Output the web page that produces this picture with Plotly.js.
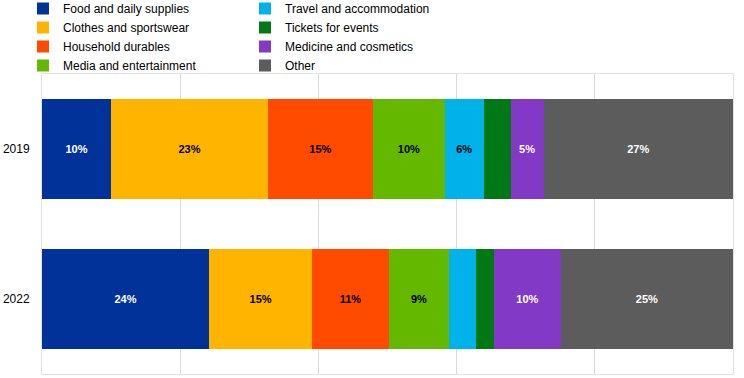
<!DOCTYPE html>
<html>
<head>
<meta charset="utf-8">
<script src="https://cdn.plot.ly/plotly-3.0.1.min.js"></script>
<style>html,body{margin:0;padding:0;background:#fff;}#chart{width:744px;height:378px;}</style>
</head>
<body>
<div id="chart"></div>
<script>
const years = ["2019", "2022"];
const categories = ["Food and daily supplies", "Clothes and sportswear", "Household durables", "Media and entertainment",
  "Travel and accommodation", "Tickets for events", "Medicine and cosmetics", "Other"];
const values2019 = [10.0, 22.7, 15.2, 10.4, 5.6, 3.9, 4.8, 27.4];
const values2022 = [24.2, 14.9, 11.1, 8.7, 3.9, 2.6, 9.7, 24.9];

const colors = ["#003299", "#FFB400", "#FF4B00", "#65B800", "#00B1EA", "#007816", "#8139C6", "#5C5C5C"];
const labelColors = ["#ffffff", "#000000", "#000000", "#000000", "#000000", "#ffffff", "#ffffff", "#ffffff"];

function label(v) { return v >= 4.5 ? Math.round(v) + "%" : ""; }

const M = {l: 42, r: 11, t: 74, b: 4, autoexpand: false};
const W = 744 - M.l - M.r, H = 378 - M.t - M.b;

const traces = categories.map((name, i) => {
  const vals = [values2019[i], values2022[i]];
  return {
    type: "bar",
    orientation: "h",
    name: name,
    y: years,
    x: vals,
    text: vals.map(label),
    textposition: "inside",
    insidetextanchor: "middle",
    textangle: 0,
    constraintext: "none",
    textfont: {family: "Liberation Sans, Arial, sans-serif", size: 11, color: labelColors[i], weight: "bold"},
    marker: {color: colors[i], line: {width: 0}},
    hoverinfo: "name+x",
    legend: i < 4 ? "legend" : "legend2"
  };
});

const legendCommon = {
  orientation: "v",
  xref: "paper", yref: "paper",
  xanchor: "left", yanchor: "top",
  y: 1 + (M.t + 6) / H,
  bgcolor: "rgba(0,0,0,0)",
  borderwidth: 0,
  font: {family: "Liberation Sans, Arial, sans-serif", size: 12, color: "#000"},
  traceorder: "normal",
  tracegroupgap: 0,
  itemclick: false, itemdoubleclick: false
};

const layout = {
  width: 744, height: 378,
  margin: M,
  paper_bgcolor: "#fff", plot_bgcolor: "#fff",
  font: {family: "Liberation Sans, Arial, sans-serif", size: 12, color: "#000"},
  barmode: "stack",
  bargap: 0.333,
  showlegend: true,
  legend: Object.assign({}, legendCommon, {x: (23 - M.l) / W}),
  legend2: Object.assign({}, legendCommon, {x: (245 - M.l) / W}),
  xaxis: {
    range: [0, 100], dtick: 20, showticklabels: false, ticks: "",
    showgrid: true, gridcolor: "#dadada", gridwidth: 1, zeroline: false,
    showline: true, linecolor: "#e3e3e3", linewidth: 1, mirror: true, fixedrange: true
  },
  yaxis: {
    type: "category", autorange: "reversed", ticks: "", showgrid: false, zeroline: false,
    showline: true, linecolor: "#e3e3e3", linewidth: 1, mirror: true,
    tickfont: {family: "Liberation Sans, Arial, sans-serif", size: 12, color: "#000"},
    ticklabelstandoff: 9, fixedrange: true
  }
};

Plotly.newPlot("chart", traces, layout, {displayModeBar: false, staticPlot: true});
</script>
</body>
</html>
